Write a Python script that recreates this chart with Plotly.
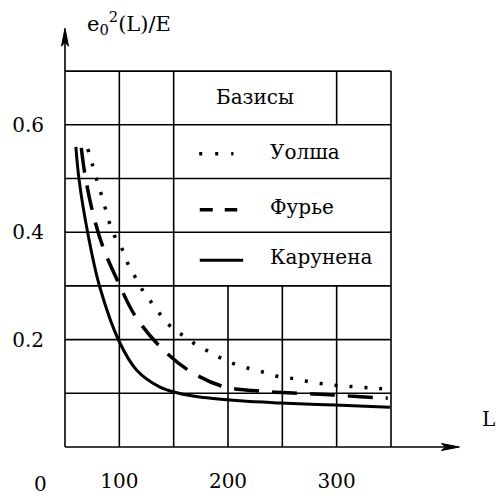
import plotly.graph_objects as go

# Residual error e0^2(L)/E versus number of basis functions L
walsh_L = [71, 75, 79, 83, 87, 91, 96, 103, 108, 115, 122, 130, 138, 148, 159,
           171, 183, 195, 208, 222, 235, 249, 263, 276, 290, 304, 318, 332, 346]
walsh_e = [0.555, 0.527, 0.499, 0.473, 0.445, 0.417, 0.391, 0.367, 0.341, 0.315,
           0.290, 0.268, 0.246, 0.223, 0.207, 0.190, 0.177, 0.164, 0.153, 0.145,
           0.138, 0.130, 0.127, 0.121, 0.117, 0.114, 0.112, 0.110, 0.108]

fourier_L = [65, 68, 75, 85, 99, 114, 136, 162, 195, 229, 264, 297, 333, 347]
fourier_e = [0.557, 0.512, 0.441, 0.372, 0.307, 0.246, 0.190, 0.145, 0.113,
             0.104, 0.100, 0.097, 0.092, 0.091]

karhunen_L = [60, 63, 71, 82, 100, 116, 137, 153, 174, 211, 248, 298, 349]
karhunen_e = [0.559, 0.497, 0.398, 0.298, 0.196, 0.143, 0.112, 0.101, 0.093,
              0.086, 0.082, 0.078, 0.074]

x_ticks = [100, 200, 300]
x_tick_text = ["100", "200", "300"]
y_ticks = [0.2, 0.4, 0.6]
y_tick_text = ["0.2", "0.4", "0.6"]

grid_x = [50, 100, 150, 200, 250, 300, 350]
grid_y = [0.1, 0.2, 0.3, 0.4, 0.5, 0.6, 0.7]

legend_title = "Базисы"
legend_names = ["Уолша", "Фурье", "Карунена"]

FONT = "DejaVu Serif"
X0, X1 = 50, 413.5
Y0, Y1 = 0.0, 0.7803
W, H = 395, 419  # plot area in pixels


def px(v):
    return (v - X0) / (X1 - X0)


def py(v):
    return (v - Y0) / (Y1 - Y0)


fig = go.Figure()

fig.add_trace(go.Scatter(x=walsh_L, y=walsh_e, mode="lines",
                         line=dict(color="black", width=3.5, dash="3px,12px", shape="spline"),
                         showlegend=False, hoverinfo="skip"))
fig.add_trace(go.Scatter(x=fourier_L, y=fourier_e, mode="lines",
                         line=dict(color="black", width=3.5, dash="25px,13px", shape="spline"),
                         showlegend=False, hoverinfo="skip"))
fig.add_trace(go.Scatter(x=karhunen_L, y=karhunen_e, mode="lines",
                         line=dict(color="black", width=3, shape="spline"),
                         showlegend=False, hoverinfo="skip"))

shapes = []
gl = dict(color="black", width=1.6)

# horizontal grid lines
for gy in grid_y:
    shapes.append(dict(type="line", xref="x", yref="y", x0=50, x1=350, y0=gy, y1=gy, line=gl))
# vertical grid lines (the legend table interrupts some of them)
for gx in grid_x[1:]:
    if gx in (200, 250):
        shapes.append(dict(type="line", xref="x", yref="y", x0=gx, x1=gx, y0=0, y1=0.3, line=gl))
    elif gx == 300:
        shapes.append(dict(type="line", xref="x", yref="y", x0=gx, x1=gx, y0=0, y1=0.3, line=gl))
        shapes.append(dict(type="line", xref="x", yref="y", x0=gx, x1=gx, y0=0.6, y1=0.7, line=gl))
    else:
        shapes.append(dict(type="line", xref="x", yref="y", x0=gx, x1=gx, y0=0, y1=0.7, line=gl))

# axes with arrow heads (paper references so nothing is clipped at the edges)
shapes.append(dict(type="line", xref="paper", yref="paper", x0=0, x1=0, y0=0, y1=py(0.765), line=gl))
shapes.append(dict(type="line", xref="paper", yref="paper", x0=0, x1=px(400), y0=0, y1=0, line=gl))
shapes.append(dict(type="path", xref="paper", yref="paper", xsizemode="pixel", ysizemode="pixel",
                   xanchor=0, yanchor=py(0.78),
                   path="M0,0 L-3.5,-18 L0,-14 L3.5,-18 Z",
                   fillcolor="black", line=dict(color="black", width=1)))
shapes.append(dict(type="path", xref="paper", yref="paper", xsizemode="pixel", ysizemode="pixel",
                   xanchor=px(413), yanchor=0,
                   path="M0,0 L-18,3.5 L-14,0 L-18,-3.5 Z",
                   fillcolor="black", line=dict(color="black", width=1)))

# legend samples
shapes.append(dict(type="line", xref="x", yref="y", x0=173.5, x1=205, y0=0.546, y1=0.546,
                   line=dict(color="black", width=3.5, dash="3px,13px")))
shapes.append(dict(type="line", xref="x", yref="y", x0=174, x1=208.5, y0=0.442, y1=0.442,
                   line=dict(color="black", width=3.5, dash="13px,12px")))
shapes.append(dict(type="line", xref="x", yref="y", x0=174, x1=214, y0=0.348, y1=0.348,
                   line=dict(color="black", width=3)))

tf = dict(family=FONT, size=20, color="black")
annotations = [
    dict(x=225, y=0.652, xref="x", yref="y", text=legend_title, showarrow=False, font=tf),
    dict(x=236.5, y=0.55, xref="x", yref="y", text=legend_names[0], showarrow=False,
         xanchor="left", font=tf),
    dict(x=236.5, y=0.447, xref="x", yref="y", text=legend_names[1], showarrow=False,
         xanchor="left", font=tf),
    dict(x=236.5, y=0.353, xref="x", yref="y", text=legend_names[2], showarrow=False,
         xanchor="left", font=tf),
    # axis captions, placed in pixels from the plot-area corner
    dict(x=20 / W, y=407 / H, xref="paper", yref="paper",
         text="e<sub>0</sub><sup>2</sup>(L)/E", yanchor="bottom",
         showarrow=False, xanchor="left", font=dict(family=FONT, size=21, color="black")),
    dict(x=432 / W, y=14 / H, xref="paper", yref="paper", text="L", showarrow=False,
         xanchor="right", font=tf),
    dict(x=-33 / W, y=-51 / H, xref="paper", yref="paper", text="0", showarrow=False, font=tf),
]

fig.update_layout(
    width=496, height=496,
    margin=dict(l=65, r=36, t=28, b=49, autoexpand=False),
    paper_bgcolor="white", plot_bgcolor="white",
    shapes=shapes, annotations=annotations,
    xaxis=dict(range=[X0, X1], showgrid=False, zeroline=False, showline=False,
               tickvals=x_ticks, ticktext=x_tick_text, ticks="", automargin=False,
               ticklabelstandoff=20, tickfont=tf),
    yaxis=dict(range=[Y0, Y1], showgrid=False, zeroline=False, showline=False,
               tickvals=y_ticks, ticktext=y_tick_text, ticks="", automargin=False,
               ticklabelstandoff=20, tickfont=tf),
)

fig.write_html("out.html")
